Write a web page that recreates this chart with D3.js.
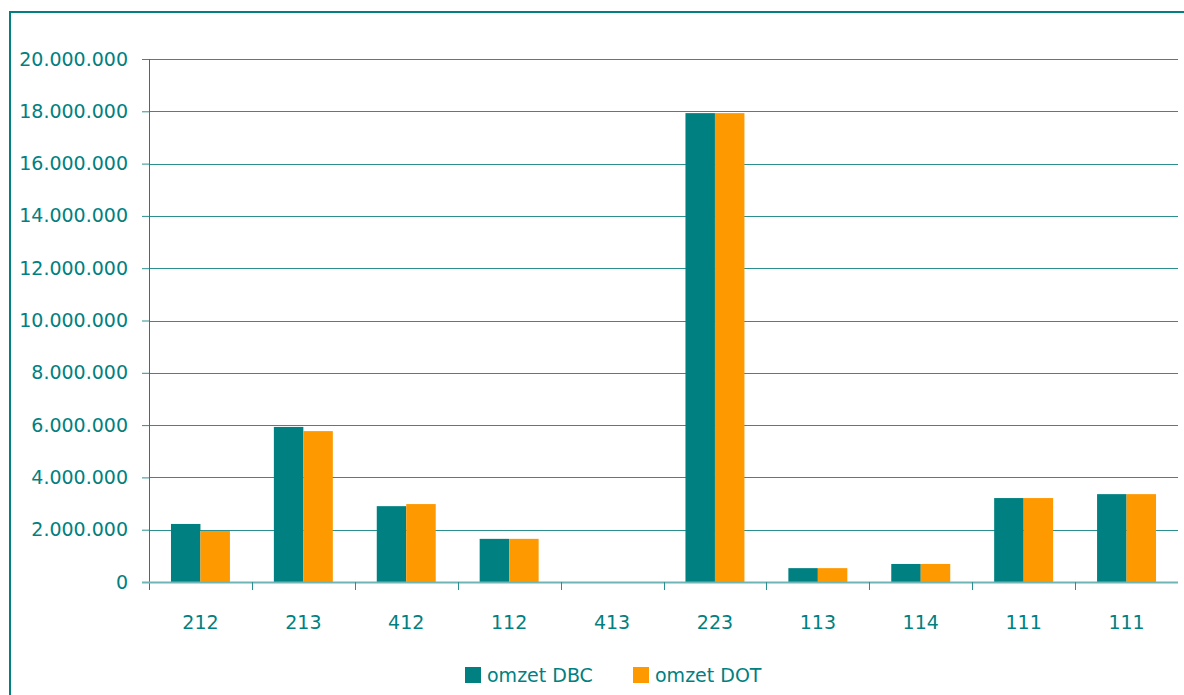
<!DOCTYPE html>
<html>
<head>
<meta charset="utf-8">
<script src="https://cdn.jsdelivr.net/npm/d3@7"></script>
<style>
  body { margin: 0; background: #fff; }
  svg text { font-family: "DejaVu Sans", Verdana, sans-serif; fill: #008080; }
</style>
</head>
<body>
<div id="chart"></div>
<script>
var categories = ["212", "213", "412", "112", "413", "223", "113", "114", "111", "111"];
var omzetDBC = [2220000, 5930000, 2900000, 1650000, 0, 17930000, 530000, 690000, 3210000, 3360000];
var omzetDOT = [1950000, 5770000, 2980000, 1650000, 0, 17930000, 530000, 690000, 3210000, 3360000];
var seriesNames = ["omzet DBC", "omzet DOT"];
var seriesColors = ["#008080", "#FF9900"];
var yTicks = [0, 2000000, 4000000, 6000000, 8000000, 10000000, 12000000, 14000000, 16000000, 18000000, 20000000];

(function(){
var width = 1184, height = 695;
var plotLeft = 149, plotRight = 1178, plotTop = 59, plotBottom = 582;

var svg = d3.select("#chart").append("svg")
    .attr("width", width)
    .attr("height", height);

// outer frame
svg.append("rect")
    .attr("x", 10).attr("y", 12)
    .attr("width", 1190).attr("height", 700)
    .attr("fill", "none")
    .attr("stroke", "#008080")
    .attr("stroke-width", 2);

var x = d3.scaleBand().domain(d3.range(categories.length)).range([plotLeft, plotRight]);
var x1 = d3.scaleBand().domain([0, 1]).range([0, x.bandwidth()]).paddingOuter(0.745).paddingInner(0);
var y = d3.scaleLinear().domain([0, 20000000]).range([plotBottom, plotTop]);

var fmt = function(d){ return d3.format(",")(d).replace(/,/g, "."); };

// gridlines
svg.append("g").selectAll("line")
    .data(yTicks.filter(function(d){ return d > 0; }))
    .enter().append("line")
    .attr("x1", plotLeft).attr("x2", plotRight)
    .attr("y1", function(d){ return Math.round(y(d)) + 0.5; })
    .attr("y2", function(d){ return Math.round(y(d)) + 0.5; })
    .attr("stroke", "#2b8f8f");

// bars
var series = [omzetDBC, omzetDOT];
series.forEach(function(vals, s){
    svg.append("g").selectAll("rect")
        .data(vals)
        .enter().append("rect")
        .attr("x", function(d, i){ return x(i) + x1(s); })
        .attr("y", function(d){ return y(d); })
        .attr("width", x1.bandwidth())
        .attr("height", function(d){ return plotBottom - y(d); })
        .attr("fill", seriesColors[s]);
});

// y axis
var yAxis = svg.append("g")
    .attr("transform", "translate(" + plotLeft + ",0)")
    .call(d3.axisLeft(y).tickValues(yTicks).tickSize(7).tickPadding(14).tickFormat(fmt));
yAxis.select(".domain").remove();
yAxis.selectAll(".tick line").attr("stroke", "#2b8f8f");
yAxis.selectAll("text").attr("font-size", 19).attr("font-family", "DejaVu Sans").attr("fill", "#008080");
svg.append("line")
    .attr("x1", plotLeft + 0.5).attr("x2", plotLeft + 0.5)
    .attr("y1", plotTop).attr("y2", plotBottom + 8)
    .attr("stroke", "#1a7f7f");

// x axis line and ticks
svg.append("line")
    .attr("x1", plotLeft - 7).attr("x2", plotRight)
    .attr("y1", plotBottom + 0.5).attr("y2", plotBottom + 0.5)
    .attr("stroke", "#6fb5b5").attr("stroke-width", 2);
svg.append("g").selectAll("line")
    .data(d3.range(1, categories.length))
    .enter().append("line")
    .attr("x1", function(i){ return Math.round(x(i)) + 0.5; })
    .attr("x2", function(i){ return Math.round(x(i)) + 0.5; })
    .attr("y1", plotBottom).attr("y2", plotBottom + 8)
    .attr("stroke", "#2b8f8f");

svg.append("g").selectAll("text")
    .data(categories)
    .enter().append("text")
    .attr("x", function(d, i){ return x(i) + x.bandwidth() / 2; })
    .attr("y", 629)
    .attr("text-anchor", "middle")
    .attr("font-size", 19)
    .text(function(d){ return d; });

// legend
var legendX = [465, 633];
seriesNames.forEach(function(name, s){
    svg.append("rect")
        .attr("x", legendX[s]).attr("y", 667)
        .attr("width", 16).attr("height", 16)
        .attr("fill", seriesColors[s]);
    svg.append("text")
        .attr("x", legendX[s] + 22).attr("y", 682)
        .attr("font-size", 19)
        .text(name);
});
})();
</script>
</body>
</html>
